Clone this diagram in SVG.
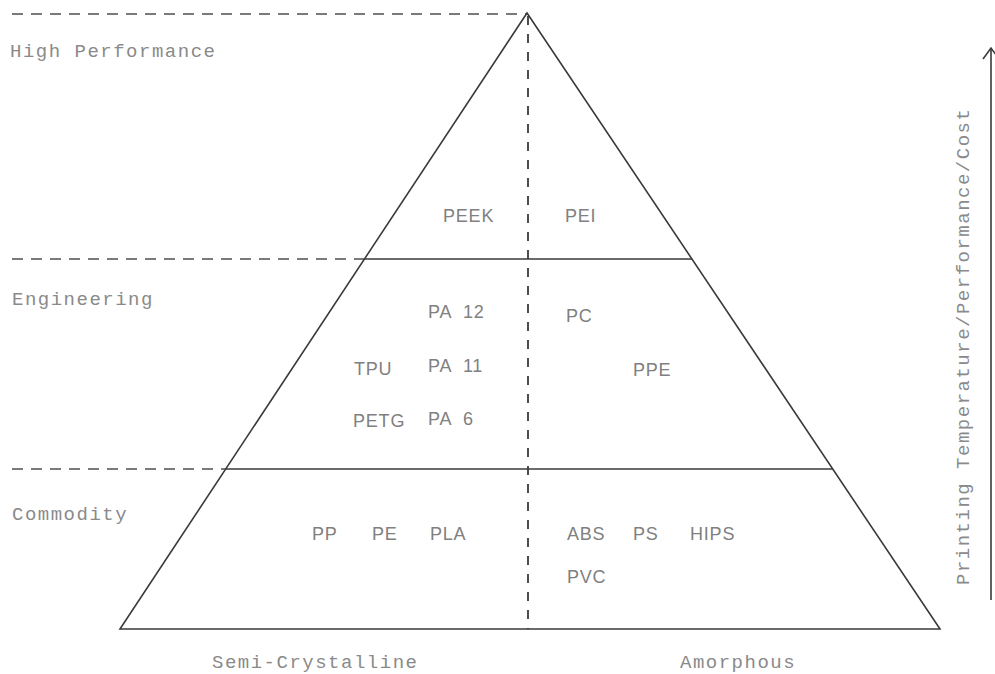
<svg xmlns="http://www.w3.org/2000/svg" width="995" height="674" viewBox="0 0 995 674">
<style>
.solid{stroke:#3a3a3a;stroke-width:1.6;fill:none}
.dash{stroke:#7a7a7a;stroke-width:2;fill:none;stroke-dasharray:11 8}
.vdash{stroke:#3a3a3a;stroke-width:1.8;fill:none;stroke-dasharray:9 9}
.lbl{font-family:"Liberation Mono","DejaVu Sans Mono",monospace;font-size:19px;fill:#8a8a8a;letter-spacing:1.5px}
.mat{font-family:"Liberation Sans",Arial,sans-serif;font-size:18px;fill:#808080;letter-spacing:0.8px}
</style>
<rect width="995" height="674" fill="#ffffff"/>
<g id="connectors">
<line class="dash" x1="12" y1="14" x2="526" y2="14"/>
<line class="dash" x1="12" y1="259" x2="364" y2="259"/>
<line class="dash" x1="12" y1="469" x2="226" y2="469"/>
<line class="vdash" x1="528" y1="16" x2="528" y2="629"/>
</g>
<g id="pyramid">
<polygon class="solid" points="527,13 120,629 940,629"/>
<line class="solid" x1="364" y1="259" x2="692" y2="259"/>
<line class="solid" x1="226" y1="469" x2="833" y2="469"/>
</g>
<g id="axis">
<line class="solid" x1="991" y1="48" x2="991" y2="600" stroke-width="1.4"/>
<polyline class="solid" points="983,59 991,48 999,59" stroke-width="1.4"/>
<text class="lbl" transform="translate(969,585) rotate(-90)">Printing Temperature/Performance/Cost</text>
</g>
<g id="tiers">
<text class="lbl" x="10" y="57">High Performance</text>
<text class="lbl" x="12" y="305">Engineering</text>
<text class="lbl" x="12" y="520">Commodity</text>
</g>
<g id="classes">
<text class="lbl" x="212" y="668">Semi-Crystalline</text>
<text class="lbl" x="680" y="668">Amorphous</text>
</g>
<g id="high-performance">
<text class="mat" x="443" y="222">PEEK</text>
<text class="mat" x="565" y="222">PEI</text>
</g>
<g id="engineering">
<text class="mat" x="428" y="318" xml:space="preserve">PA  12</text>
<text class="mat" x="566" y="322">PC</text>
<text class="mat" x="354" y="375">TPU</text>
<text class="mat" x="428" y="372" xml:space="preserve">PA  11</text>
<text class="mat" x="633" y="376">PPE</text>
<text class="mat" x="353" y="427">PETG</text>
<text class="mat" x="428" y="425" xml:space="preserve">PA  6</text>
</g>
<g id="commodity">
<text class="mat" x="312" y="540">PP</text>
<text class="mat" x="372" y="540">PE</text>
<text class="mat" x="430" y="540">PLA</text>
<text class="mat" x="567" y="540">ABS</text>
<text class="mat" x="633" y="540">PS</text>
<text class="mat" x="690" y="540">HIPS</text>
<text class="mat" x="567" y="583">PVC</text>
</g>
</svg>
